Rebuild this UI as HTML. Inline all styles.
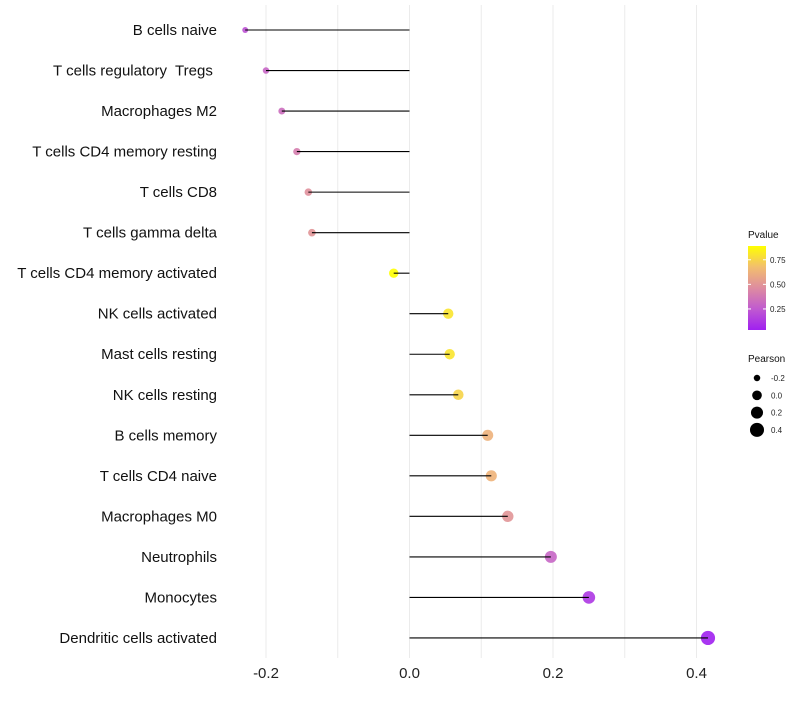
<!DOCTYPE html>
<html><head><meta charset="utf-8"><style>
body{margin:0;background:#fff;font-family:"Liberation Sans",sans-serif}
svg text{font-family:"Liberation Sans",sans-serif}
</style></head><body>
<svg id="c" width="800" height="700"></svg>
<script>
const categories=["B cells naive","T cells regulatory  Tregs ","Macrophages M2","T cells CD4 memory resting","T cells CD8","T cells gamma delta","T cells CD4 memory activated","NK cells activated","Mast cells resting","NK cells resting","B cells memory","T cells CD4 naive","Macrophages M0","Neutrophils","Monocytes","Dendritic cells activated"];
const pearson=[-0.229,-0.2,-0.178,-0.157,-0.141,-0.136,-0.022,0.054,0.056,0.068,0.109,0.114,0.137,0.197,0.25,0.416];
const pvalues=[0.22,0.3,0.33,0.4,0.48,0.5,0.89,0.8,0.8,0.75,0.62,0.63,0.5,0.3,0.12,0.036];
const xTicks=[-0.2,0,0.2,0.4];
const xTickLabels=["-0.2","0.0","0.2","0.4"];
const gridVals=[-0.2,-0.1,0,0.1,0.2,0.3,0.4];
const pLegend=[0.25,0.5,0.75];
const sizeLegend=[-0.2,0,0.2,0.4];

const NS="http://www.w3.org/2000/svg";
const svg=document.getElementById('c');
function mk(t,a,p){const e=document.createElementNS(NS,t);for(const k in a)e.setAttribute(k,a[k]);(p||svg).appendChild(e);return e;}
const x=v=>409.5+v*717.5;
const y=i=>30+i*40.53;
const rad=v=>1.08*Math.sqrt(Math.max(4,20.1+55.4*v));
const stops=[[0,[160,32,240]],[0.25,[192,90,208]],[0.5,[222,140,160]],[0.75,[242,190,110]],[1,[255,255,0]]];
function col(p){let t=(p-0.036)/(0.89-0.036);t=Math.max(0,Math.min(1,t));for(let i=1;i<stops.length;i++){if(t<=stops[i][0]){const a=stops[i-1],b=stops[i],f=(t-a[0])/(b[0]-a[0]);return 'rgb('+a[1].map((c,j)=>Math.round(c+(b[1][j]-c)*f)).join(',')+')';}}return 'rgb(255,255,0)';}

gridVals.forEach(v=>{const g=mk('line',{x1:x(v),x2:x(v),y1:5,y2:658,stroke:'#ebebeb','stroke-width':1});

});
xTicks.forEach((v,i)=>{const t=mk('text',{x:x(v),y:678,'text-anchor':'middle','font-size':15,fill:'#222'});t.textContent=xTickLabels[i];

});
categories.forEach((c,i)=>{
const t=mk('text',{x:217,y:y(i)+5,'text-anchor':'end','font-size':15,fill:'#111','xml:space':'preserve'});t.textContent=c;
t.style.whiteSpace='pre';


const d=mk('circle',{cx:x(pearson[i]),cy:y(i),r:rad(pearson[i]),fill:col(pvalues[i]),'fill-opacity':0.9});


const l=mk('line',{x1:x(0),x2:x(pearson[i]),y1:y(i),y2:y(i),stroke:'#000','stroke-width':1.1});


});
const lt=mk('text',{x:748,y:238,'font-size':10,fill:'#111'});lt.textContent='Pvalue';


const defs=mk('defs',{});const gr=mk('linearGradient',{id:'g',x1:0,y1:1,x2:0,y2:0},defs);
stops.forEach(s=>mk('stop',{offset:s[0],'stop-color':'rgb('+s[1].join(',')+')'},gr));
const cb=mk('rect',{x:748,y:246,width:18,height:84,fill:'url(#g)'});


const py=p=>330-(p-0.036)/(0.89-0.036)*84;
pLegend.forEach(p=>{mk('line',{x1:748,x2:751,y1:py(p),y2:py(p),stroke:'#fff'});mk('line',{x1:763,x2:766,y1:py(p),y2:py(p),stroke:'#fff'});
const t=mk('text',{x:770,y:py(p)+3,'font-size':8,fill:'#222'});t.textContent=p.toFixed(2);

});
const st=mk('text',{x:748,y:362,'font-size':10,fill:'#111'});st.textContent='Pearson';


sizeLegend.forEach((v,i)=>{const cy=378+i*17.3;
const c=mk('circle',{cx:757,cy:cy,r:rad(v),fill:'#000'});


const t=mk('text',{x:771,y:cy+3,'font-size':8,fill:'#222'});t.textContent=v.toFixed(1);

});
</script>
</body></html>
